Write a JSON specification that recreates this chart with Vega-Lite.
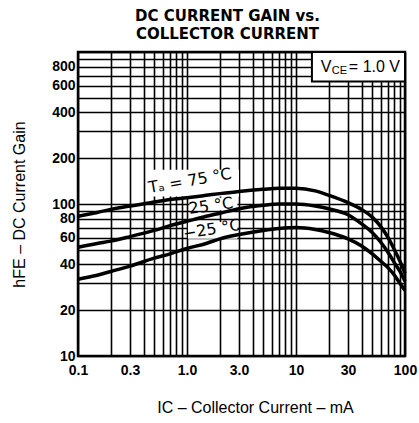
{
  "$schema": "https://vega.github.io/schema/vega-lite/v6.json",
  "width": 327,
  "height": 304,
  "autosize": "none",
  "padding": {"left": 78, "top": 52, "right": 14, "bottom": 67},
  "background": "white",
  "config": {
    "view": {"stroke": "black", "strokeWidth": 2.5},
    "font": "Liberation Sans"
  },
  "title": {
    "text": ["DC CURRENT GAIN vs.", "COLLECTOR CURRENT"],
    "font": "DejaVu Sans",
    "fontSize": 15,
    "fontWeight": "bold",
    "lineHeight": 18,
    "anchor": "middle",
    "dx": -14,
    "offset": 3,
    "color": "black"
  },
  "datasets": {
    "curves": [
      {"ic": 0.1, "hfe": 83, "temp": "75"}, {"ic": 0.15, "hfe": 88, "temp": "75"}, {"ic": 0.2, "hfe": 92, "temp": "75"}, {"ic": 0.3, "hfe": 97, "temp": "75"}, {"ic": 0.5, "hfe": 103, "temp": "75"}, {"ic": 0.7, "hfe": 107, "temp": "75"}, {"ic": 1, "hfe": 110, "temp": "75"}, {"ic": 1.5, "hfe": 114, "temp": "75"}, {"ic": 2, "hfe": 117, "temp": "75"}, {"ic": 3, "hfe": 121, "temp": "75"}, {"ic": 5, "hfe": 125, "temp": "75"}, {"ic": 7, "hfe": 127, "temp": "75"}, {"ic": 10, "hfe": 127, "temp": "75"}, {"ic": 15, "hfe": 122, "temp": "75"}, {"ic": 20, "hfe": 114, "temp": "75"}, {"ic": 30, "hfe": 102, "temp": "75"}, {"ic": 40, "hfe": 92, "temp": "75"}, {"ic": 50, "hfe": 82, "temp": "75"}, {"ic": 60, "hfe": 71, "temp": "75"}, {"ic": 70, "hfe": 60, "temp": "75"}, {"ic": 80, "hfe": 50, "temp": "75"}, {"ic": 90, "hfe": 42, "temp": "75"}, {"ic": 100, "hfe": 35, "temp": "75"},
      {"ic": 0.1, "hfe": 52, "temp": "25"}, {"ic": 0.15, "hfe": 55, "temp": "25"}, {"ic": 0.2, "hfe": 57, "temp": "25"}, {"ic": 0.3, "hfe": 61, "temp": "25"}, {"ic": 0.5, "hfe": 67, "temp": "25"}, {"ic": 0.7, "hfe": 72, "temp": "25"}, {"ic": 1, "hfe": 77, "temp": "25"}, {"ic": 1.5, "hfe": 83, "temp": "25"}, {"ic": 2, "hfe": 87, "temp": "25"}, {"ic": 3, "hfe": 93, "temp": "25"}, {"ic": 5, "hfe": 98, "temp": "25"}, {"ic": 7, "hfe": 100, "temp": "25"}, {"ic": 10, "hfe": 100, "temp": "25"}, {"ic": 15, "hfe": 97, "temp": "25"}, {"ic": 20, "hfe": 93, "temp": "25"}, {"ic": 30, "hfe": 85, "temp": "25"}, {"ic": 40, "hfe": 74, "temp": "25"}, {"ic": 50, "hfe": 65, "temp": "25"}, {"ic": 60, "hfe": 56, "temp": "25"}, {"ic": 70, "hfe": 48, "temp": "25"}, {"ic": 80, "hfe": 41, "temp": "25"}, {"ic": 90, "hfe": 36, "temp": "25"}, {"ic": 100, "hfe": 31, "temp": "25"},
      {"ic": 0.1, "hfe": 32, "temp": "-25"}, {"ic": 0.15, "hfe": 34, "temp": "-25"}, {"ic": 0.2, "hfe": 36, "temp": "-25"}, {"ic": 0.3, "hfe": 39, "temp": "-25"}, {"ic": 0.5, "hfe": 44, "temp": "-25"}, {"ic": 0.7, "hfe": 47, "temp": "-25"}, {"ic": 1, "hfe": 51, "temp": "-25"}, {"ic": 1.5, "hfe": 55, "temp": "-25"}, {"ic": 2, "hfe": 59, "temp": "-25"}, {"ic": 3, "hfe": 63, "temp": "-25"}, {"ic": 5, "hfe": 67, "temp": "-25"}, {"ic": 7, "hfe": 69, "temp": "-25"}, {"ic": 10, "hfe": 70, "temp": "-25"}, {"ic": 15, "hfe": 68, "temp": "-25"}, {"ic": 20, "hfe": 65, "temp": "-25"}, {"ic": 30, "hfe": 59, "temp": "-25"}, {"ic": 40, "hfe": 53, "temp": "-25"}, {"ic": 50, "hfe": 47, "temp": "-25"}, {"ic": 60, "hfe": 42, "temp": "-25"}, {"ic": 70, "hfe": 38, "temp": "-25"}, {"ic": 80, "hfe": 34, "temp": "-25"}, {"ic": 90, "hfe": 30, "temp": "-25"}, {"ic": 100, "hfe": 27, "temp": "-25"}
    ],
    "boxes": [
      {"ic": 0.46, "ic2": 3.0, "hfe": 112, "hfe2": 168, "kind": "label"},
      {"ic": 1.05, "ic2": 2.9, "hfe": 91, "hfe2": 110, "kind": "label"},
      {"ic": 1.02, "ic2": 2.9, "hfe": 59, "hfe2": 76, "kind": "label"}
    ],
    "vcebox": [
      {"ic": 14, "ic2": 100, "hfe": 640, "hfe2": 1000}
    ],
    "labels": [
      {"ic": 1.065, "hfe": 142, "text": "Tₐ = 75 °C", "angle": -10},
      {"ic": 1.66, "hfe": 97, "text": "25 °C", "angle": -8},
      {"ic": 1.69, "hfe": 68, "text": "−25 °C", "angle": -9}
    ],
    "vce": [
      {"ic": 16.9, "hfe": 800}
    ]
  },
  "layer": [
    {
      "data": {"name": "boxes"},
      "mark": {"type": "rect", "fill": "white", "stroke": null},
      "encoding": {
        "x": {
          "field": "ic",
          "type": "quantitative",
          "scale": {"type": "log", "domain": [0.1, 100], "nice": false},
          "axis": {
            "title": "IC – Collector Current – mA",
            "titleFont": "Liberation Sans",
            "titleFontSize": 16,
            "titleFontWeight": "normal",
            "titleColor": "black",
            "titlePadding": 22,
            "titleX": 177,
            "values": [0.1, 0.2, 0.3, 0.4, 0.5, 0.6, 0.7, 0.8, 0.9, 1, 2, 3, 4, 5, 6, 7, 8, 9, 10, 20, 30, 40, 50, 60, 70, 80, 90, 100],
            "labelExpr": "datum.value == 0.1 ? '0.1' : datum.value == 0.3 ? '0.3' : datum.value == 1 ? '1.0' : datum.value == 3 ? '3.0' : datum.value == 10 ? '10' : datum.value == 30 ? '30' : datum.value == 100 ? '100' : ''",
            "labelFont": "Liberation Sans",
            "labelFontSize": 14,
            "labelFontWeight": "bold",
            "labelColor": "black",
            "labelPadding": 7,
            "labelFlush": false,
            "labelOverlap": false,
            "labelBound": false,
            "ticks": false,
            "domain": false,
            "grid": true,
            "gridColor": "black",
            "gridWidth": 1.6,
            "gridOpacity": 1
          }
        },
        "x2": {"field": "ic2"},
        "y": {
          "field": "hfe",
          "type": "quantitative",
          "scale": {"type": "log", "domain": [10, 1000], "nice": false},
          "axis": {
            "title": "hFE – DC Current Gain",
            "titleFont": "Liberation Sans",
            "titleFontSize": 16,
            "titleFontWeight": "normal",
            "titleColor": "black",
            "titlePadding": 24,
            "values": [10, 20, 30, 40, 50, 60, 70, 80, 90, 100, 200, 300, 400, 500, 600, 700, 800, 900, 1000],
            "labelExpr": "indexof([10, 20, 40, 60, 80, 100, 200, 400, 600, 800], datum.value) >= 0 ? datum.label : ''",
            "labelFont": "Liberation Sans",
            "labelFontSize": 14,
            "labelFontWeight": "bold",
            "labelColor": "black",
            "labelPadding": 3,
            "labelOverlap": false,
            "labelBound": false,
            "labelFlush": false,
            "ticks": false,
            "domain": false,
            "grid": true,
            "gridColor": "black",
            "gridWidth": 1.6,
            "gridOpacity": 1
          }
        },
        "y2": {"field": "hfe2"}
      }
    },
    {
      "data": {"name": "vcebox"},
      "mark": {"type": "rect", "fill": "white", "stroke": "black", "strokeWidth": 2},
      "encoding": {
        "x": {"field": "ic", "type": "quantitative"},
        "x2": {"field": "ic2"},
        "y": {"field": "hfe", "type": "quantitative"},
        "y2": {"field": "hfe2"}
      }
    },
    {
      "data": {"name": "curves"},
      "mark": {"type": "line", "color": "black", "strokeWidth": 3.5, "interpolate": "monotone"},
      "encoding": {
        "x": {"field": "ic", "type": "quantitative"},
        "y": {"field": "hfe", "type": "quantitative"},
        "detail": {"field": "temp", "type": "nominal"}
      }
    },
    {
      "data": {"name": "labels"},
      "mark": {"type": "text", "font": "DejaVu Sans", "fontSize": 16, "color": "black", "align": "center", "baseline": "middle"},
      "encoding": {
        "x": {"field": "ic", "type": "quantitative"},
        "y": {"field": "hfe", "type": "quantitative"},
        "text": {"field": "text"},
        "angle": {"field": "angle", "type": "quantitative", "scale": null}
      }
    },
    {
      "data": {"name": "vce"},
      "mark": {"type": "text", "font": "Liberation Sans", "fontSize": 16, "color": "black", "align": "left", "baseline": "middle", "text": "V"},
      "encoding": {
        "x": {"field": "ic", "type": "quantitative"},
        "y": {"field": "hfe", "type": "quantitative"}
      }
    },
    {
      "data": {"name": "vce"},
      "mark": {"type": "text", "font": "Liberation Sans", "fontSize": 11, "color": "black", "align": "left", "baseline": "middle", "text": "CE", "dx": 11, "dy": 4},
      "encoding": {
        "x": {"field": "ic", "type": "quantitative"},
        "y": {"field": "hfe", "type": "quantitative"}
      }
    },
    {
      "data": {"name": "vce"},
      "mark": {"type": "text", "font": "Liberation Sans", "fontSize": 16, "color": "black", "align": "left", "baseline": "middle", "text": "= 1.0 V", "dx": 28},
      "encoding": {
        "x": {"field": "ic", "type": "quantitative"},
        "y": {"field": "hfe", "type": "quantitative"}
      }
    }
  ]
}
